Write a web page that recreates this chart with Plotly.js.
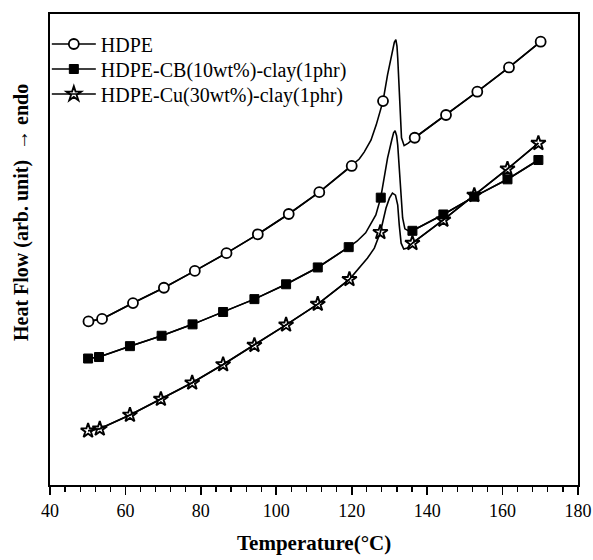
<!DOCTYPE html>
<html>
<head>
<meta charset="utf-8">
<script src="https://cdn.plot.ly/plotly-3.0.1.min.js"></script>
<style>html,body{margin:0;padding:0;background:#fff;}#chart{width:593px;height:560px;}</style>
</head>
<body>
<div id="chart"></div>
<script>
// Series names
var seriesNames = ['HDPE', 'HDPE-CB(10wt%)-clay(1phr)', 'HDPE-Cu(30wt%)-clay(1phr)'];

// Marker points (Temperature °C, Heat flow arb. unit)
var hdpeT  = [50.2, 53.8, 62.0, 70.2, 78.4, 86.8, 95.1, 103.3, 111.4, 120.0, 128.3, 136.7, 145.0, 153.3, 161.7, 170.1];
var hdpeHF = [38.3, 38.8, 42.0, 45.1, 48.5, 52.1, 55.9, 60.0, 64.4, 69.7, 82.8, 75.4, 80.0, 84.7, 89.6, 94.8];
var cbT    = [50.1, 53.0, 61.2, 69.6, 77.8, 85.9, 94.2, 102.6, 111.0, 119.2, 127.7, 136.1, 144.3, 152.5, 161.3, 169.5];
var cbHF   = [30.8, 31.1, 33.3, 35.4, 37.7, 40.2, 42.8, 45.8, 49.2, 53.3, 63.3, 56.6, 59.9, 63.5, 67.0, 70.9];
var cuT    = [50.1, 53.2, 61.2, 69.4, 77.7, 85.9, 94.2, 102.6, 111.0, 119.4, 127.6, 136.1, 144.3, 152.5, 161.3, 169.5];
var cuHF   = [16.2, 16.6, 19.4, 22.6, 25.9, 29.6, 33.5, 37.6, 41.8, 46.8, 56.3, 54.1, 58.8, 63.8, 69.1, 74.3];

// Extra curve points read around the melting peak (no markers)
var hdpePeakT  = [122.0, 123.3, 125.1, 126.5, 127.5, 129.5, 130.8, 131.3, 131.7, 132.0, 132.2, 132.8, 133.2, 133.9, 135.0];
var hdpePeakHF = [71.1, 72.5, 74.9, 78.0, 80.4, 88.1, 93.1, 94.7, 95.2, 93.9, 91.5, 81.4, 75.4, 73.8, 74.3];
var cbPeakT    = [121.4, 123.7, 126.4, 129.5, 130.6, 131.1, 131.5, 131.9, 132.2, 132.9, 133.5, 134.1, 135.0];
var cbPeakHF   = [54.5, 56.2, 59.8, 71.3, 74.9, 76.4, 76.8, 75.8, 73.9, 65.9, 59.2, 57.0, 56.6];
var cuPeakT    = [124.2, 126.0, 129.1, 130.0, 130.8, 131.6, 132.2, 132.6, 133.1, 133.8, 134.7];
var cuPeakHF   = [51.1, 53.1, 61.2, 63.2, 64.2, 63.8, 61.8, 57.8, 54.1, 52.9, 53.1];

// Axis ticks
var xTickVals = [40, 60, 80, 100, 120, 140, 160, 180];

function mergeCurve(mT, mY, pT, pY) {
  var pts = [];
  for (var i = 0; i < mT.length; i++) pts.push([mT[i], mY[i]]);
  for (var j = 0; j < pT.length; j++) pts.push([pT[j], pY[j]]);
  pts.sort(function (a, b) { return a[0] - b[0]; });
  return { x: pts.map(function (p) { return p[0]; }), y: pts.map(function (p) { return p[1]; }) };
}
function markerLine(mT, mY, pT) {
  var x = [], y = [];
  for (var i = 0; i < mT.length; i++) {
    if (i > 0) {
      var gap = pT.some(function (t) { return t > mT[i - 1] && t < mT[i]; });
      if (gap) { x.push(null); y.push(null); }
    }
    x.push(mT[i]); y.push(mY[i]);
  }
  return { x: x, y: y };
}

var LW = 1.6;
var series = [
  { mT: hdpeT, mY: hdpeHF, pT: hdpePeakT, pY: hdpePeakHF, marker: { symbol: 'circle', size: 10, color: '#fff', line: { color: '#000', width: 1.8 } }, legend: 'legend' },
  { mT: cbT, mY: cbHF, pT: cbPeakT, pY: cbPeakHF, marker: { symbol: 'square', size: 9, color: '#000', line: { color: '#000', width: 1 } }, legend: 'legend2' },
  { mT: cuT, mY: cuHF, pT: cuPeakT, pY: cuPeakHF, marker: { symbol: 'star-open', size: 11, color: '#000', line: { color: '#000', width: 1.9 } }, legend: 'legend3' }
];

var traces = [];
series.forEach(function (s) {
  var c = mergeCurve(s.mT, s.mY, s.pT, s.pY);
  traces.push({ x: c.x, y: c.y, mode: 'lines', line: { color: '#000', width: LW }, showlegend: false, hoverinfo: 'skip' });
});
series.forEach(function (s, k) {
  var m = markerLine(s.mT, s.mY, s.pT);
  traces.push({ x: m.x, y: m.y, mode: 'lines+markers', name: seriesNames[k], connectgaps: false,
    line: { color: '#000', width: LW }, marker: s.marker, legend: s.legend });
});

var serif = 'Liberation Serif, Times New Roman, serif';
function leg(yp) {
  return { x: -0.006, xanchor: 'left', y: yp, yanchor: 'middle', bgcolor: 'rgba(0,0,0,0)', borderwidth: 0,
    itemwidth: 44, font: { family: serif, size: 20, color: '#000' } };
}

var layout = {
  width: 593, height: 560,
  margin: { l: 50, r: 15, t: 14, b: 75 },
  paper_bgcolor: '#fff', plot_bgcolor: '#fff',
  showlegend: true,
  legend: leg(0.9363), legend2: leg(0.8832), legend3: leg(0.8301),
  xaxis: {
    range: [40, 180], tickvals: xTickVals, ticktext: xTickVals.map(String),
    ticks: 'outside', ticklen: 8, tickwidth: 1.6, tickcolor: '#000',
    minor: { dtick: 4, tick0: 40, ticks: 'outside', ticklen: 5, tickwidth: 1.2, tickcolor: '#000', showgrid: false },
    showline: true, linecolor: '#000', linewidth: 2, mirror: true,
    showgrid: false, zeroline: false,
    tickfont: { family: serif, size: 18, color: '#000' }
  },
  yaxis: {
    range: [5.25, 100.4], showticklabels: false, ticks: '',
    showline: true, linecolor: '#000', linewidth: 2, mirror: true,
    showgrid: false, zeroline: false
  },
  annotations: [
    { text: '<b>Temperature(°C)</b>', xref: 'paper', yref: 'paper', x: 0.5, y: -0.123, xanchor: 'center', yanchor: 'middle',
      showarrow: false, font: { family: serif, size: 21, color: '#000' } },
    { text: '<b>Heat Flow (arb. unit)\u00a0\u00a0\u2192\u00a0endo</b>', xref: 'paper', yref: 'paper', x: -0.053, y: 0.5775,
      xanchor: 'center', yanchor: 'middle', textangle: -90, showarrow: false, font: { family: serif, size: 20, color: '#000' } }
  ]
};

Plotly.newPlot('chart', traces, layout, { displayModeBar: false, staticPlot: true });
</script>
</body>
</html>
